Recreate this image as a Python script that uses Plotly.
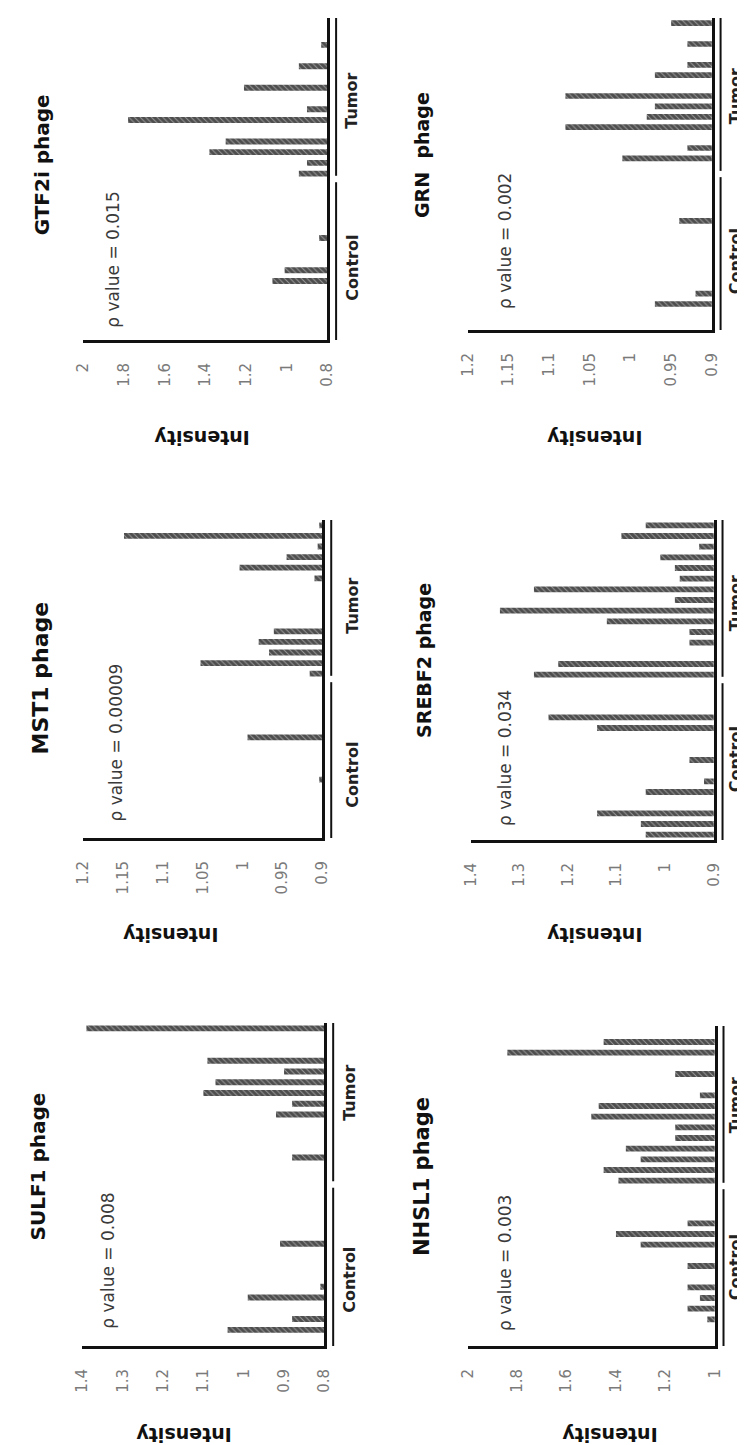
import plotly.graph_objects as go

W, H = 745, 1445

# sample index along the category axis: 0-14 Control, 15-29 Tumor
samples = list(range(30))
group_names = ["Control", "Tumor"]
intensity_label = "Intensity"

# ---- data (values below the axis minimum are not visible) ----
sulf1_values = [0.78, 1.04, 0.88, 0.78, 0.99, 0.81, 0.78, 0.78, 0.78, 0.91,
                0.78, 0.78, 0.78, 0.78, 0.78, 0.78, 0.78, 0.88, 0.78, 0.78,
                0.78, 0.92, 0.88, 1.10, 1.07, 0.90, 1.09, 0.78, 0.78, 1.39]
sulf1_ticks = [0.8, 0.9, 1.0, 1.1, 1.2, 1.3, 1.4]
sulf1_tick_text = ["0.8", "0.9", "1", "1.1", "1.2", "1.3", "1.4"]

mst1_values = [0.89, 0.89, 0.89, 0.89, 0.89, 0.904, 0.89, 0.89, 0.89, 0.994,
               0.89, 0.89, 0.89, 0.89, 0.89, 0.916, 1.053, 0.967, 0.98, 0.961,
               0.89, 0.89, 0.89, 0.89, 0.91, 1.004, 0.945, 0.906, 1.149, 0.904]
mst1_ticks = [0.9, 0.95, 1.0, 1.05, 1.1, 1.15, 1.2]
mst1_tick_text = ["0.9", "0.95", "1", "1.05", "1.1", "1.15", "1.2"]

gtf2i_values = [0.78, 0.78, 0.78, 0.78, 0.78, 1.07, 1.01, 0.78, 0.78, 0.84,
                0.78, 0.78, 0.78, 0.78, 0.78, 0.94, 0.90, 1.38, 1.30, 0.78,
                1.78, 0.90, 0.78, 1.21, 0.78, 0.94, 0.78, 0.83, 0.78, 0.78]
gtf2i_ticks = [0.8, 1.0, 1.2, 1.4, 1.6, 1.8, 2.0]
gtf2i_tick_text = ["0.8", "1", "1.2", "1.4", "1.6", "1.8", "2"]

nhsl1_values = [0.98, 0.98, 1.03, 1.11, 1.06, 1.11, 0.98, 1.11, 0.98, 1.30,
                1.40, 1.11, 0.98, 0.98, 0.98, 1.39, 1.45, 1.30, 1.36, 1.16,
                1.16, 1.50, 1.47, 1.06, 0.98, 1.16, 0.98, 1.84, 1.45, 0.98]
nhsl1_ticks = [1.0, 1.2, 1.4, 1.6, 1.8, 2.0]
nhsl1_tick_text = ["1", "1.2", "1.4", "1.6", "1.8", "2"]

srebf2_values = [1.04, 1.05, 1.14, 0.89, 1.04, 0.92, 0.89, 0.95, 0.89, 0.89,
                 1.14, 1.24, 0.89, 0.89, 0.89, 1.27, 1.22, 0.89, 0.95, 0.95,
                 1.12, 1.34, 0.98, 1.27, 0.97, 0.98, 1.01, 0.93, 1.09, 1.04]
srebf2_ticks = [0.9, 1.0, 1.1, 1.2, 1.3, 1.4]
srebf2_tick_text = ["0.9", "1", "1.1", "1.2", "1.3", "1.4"]

grn_values = [0.89, 0.89, 0.97, 0.92, 0.89, 0.89, 0.89, 0.89, 0.89, 0.89,
              0.94, 0.89, 0.89, 0.89, 0.89, 0.89, 1.01, 0.93, 0.89, 1.08,
              0.98, 0.97, 1.08, 0.89, 0.97, 0.93, 0.89, 0.93, 0.89, 0.95]
grn_ticks = [0.9, 0.95, 1.0, 1.05, 1.1, 1.15, 1.2]
grn_tick_text = ["0.9", "0.95", "1", "1.05", "1.1", "1.15", "1.2"]

# ---- panel layout (pixel geometry of the rotated page) ----
panels = [
    dict(title="SULF1 phage", p="ρ value = 0.008", vals=sulf1_values, ticks=sulf1_ticks,
         ttext=sulf1_tick_text, rng=(0.8, 1.4), box=(67, 315, 1015, 1338), tpos=(22, 1158), tsize=20,
         ppos=(93, 1253), cpos=(340, 1272), upos=(340, 1085), ipos=(171, 1427)),
    dict(title="MST1 phage", p="ρ value = 0.00009", vals=mst1_values, ticks=mst1_ticks,
         ttext=mst1_tick_text, rng=(0.9, 1.2), box=(68, 313, 512, 830), tpos=(24, 670), tsize=22,
         ppos=(101, 735), cpos=(343, 767), upos=(343, 598), ipos=(157, 927)),
    dict(title="GTF2i phage", p="ρ value = 0.015", vals=gtf2i_values, ticks=gtf2i_ticks,
         ttext=gtf2i_tick_text, rng=(0.8, 2.0), box=(68, 318, 10, 332), tpos=(26, 157), tsize=20,
         ppos=(98, 252), cpos=(343, 260), upos=(343, 93), ipos=(189, 430)),
    dict(title="NHSL1 phage", p="ρ value = 0.003", vals=nhsl1_values, ticks=nhsl1_ticks,
         ttext=nhsl1_tick_text, rng=(1.0, 2.0), box=(462, 715, 1018, 1338), tpos=(415, 1168), tsize=21,
         ppos=(500, 1255), cpos=(736, 1259), upos=(736, 1097), ipos=(607, 1427)),
    dict(title="SREBF2 phage", p="ρ value = 0.034", vals=srebf2_values, ticks=srebf2_ticks,
         ttext=srebf2_tick_text, rng=(0.9, 1.4), box=(465, 714, 512, 832), tpos=(417, 652), tsize=19,
         ppos=(500, 750), cpos=(736, 751), upos=(736, 595), ipos=(592, 927)),
    dict(title="GRN  phage", p="ρ value = 0.002", vals=grn_values, ticks=grn_ticks,
         ttext=grn_tick_text, rng=(0.9, 1.2), box=(462, 712, 10, 322), tpos=(415, 147), tsize=19,
         ppos=(500, 233), cpos=(736, 253), upos=(736, 88), ipos=(592, 430)),
]

FONT = "DejaVu Sans"
DARK = "#111111"

fig = go.Figure()
layout = dict(width=W, height=H, margin=dict(l=0, r=0, t=0, b=0),
              paper_bgcolor="white", plot_bgcolor="white", showlegend=False,
              annotations=[], shapes=[])

def px(x):
    return x / W

def py(y):
    return 1 - y / H

for i, pnl in enumerate(panels, start=1):
    xa = "x" if i == 1 else f"x{i}"
    ya = "y" if i == 1 else f"y{i}"
    xl, xr, yt, yb = pnl["box"]
    vmin, vmax = pnl["rng"]
    fig.add_trace(go.Bar(
        x=pnl["vals"], y=samples, orientation="h", width=0.55,
        xaxis=xa, yaxis=ya,
        marker=dict(color="#ffffff", line=dict(width=0),
                    pattern=dict(shape="\\", fgcolor="#000000", bgcolor="#9a9a9a",
                                 size=4, solidity=0.75)),
        hoverinfo="skip"))
    xkey = "xaxis" if i == 1 else f"xaxis{i}"
    ykey = "yaxis" if i == 1 else f"yaxis{i}"
    layout[xkey] = dict(domain=[px(xl), px(xr)], anchor=ya, range=[vmax, vmin],
                        tickvals=pnl["ticks"], ticktext=pnl["ttext"], tickangle=-90,
                        ticks="", ticklabelstandoff=14, showgrid=False, zeroline=False,
                        showline=True, linecolor=DARK, linewidth=3, fixedrange=True,
                        tickfont=dict(family=FONT, size=15, color="#7a7a7a"))
    layout[ykey] = dict(domain=[py(yb), py(yt)], anchor=xa, range=[-0.5, 29.5],
                        side="right", showticklabels=False, ticks="", showgrid=False,
                        zeroline=False, showline=True, linecolor=DARK, linewidth=3,
                        fixedrange=True)
    # group brackets beside the category axis
    bx = px(xr + 9)
    for y0, y1 in ((-0.5, 14.2), (14.8, 29.5)):
        layout["shapes"].append(dict(type="line", xref="paper", yref=ya, x0=bx, x1=bx,
                                     y0=y0, y1=y1, line=dict(color=DARK, width=2)))
    ann = layout["annotations"]
    ann.append(dict(text=f"<b>{pnl['title']}</b>", x=px(pnl["tpos"][0]), y=py(pnl["tpos"][1]),
                    xref="paper", yref="paper", showarrow=False, textangle=-90,
                    xanchor="center", yanchor="middle",
                    font=dict(family=FONT, size=pnl["tsize"], color=DARK)))
    ann.append(dict(text=pnl["p"], x=px(pnl["ppos"][0]), y=py(pnl["ppos"][1]),
                    xref="paper", yref="paper", showarrow=False, textangle=-90,
                    xanchor="center", yanchor="middle",
                    font=dict(family=FONT, size=17, color="#3a3a3a")))
    for name, pos in zip(group_names, (pnl["cpos"], pnl["upos"])):
        ann.append(dict(text=f"<b>{name}</b>", x=px(pos[0]), y=py(pos[1]),
                        xref="paper", yref="paper", showarrow=False, textangle=-90,
                        xanchor="center", yanchor="middle",
                        font=dict(family=FONT, size=16, color="#222222")))
    ann.append(dict(text=f"<b>{intensity_label}</b>", x=px(pnl["ipos"][0]), y=py(pnl["ipos"][1]),
                    xref="paper", yref="paper", showarrow=False, textangle=180,
                    xanchor="center", yanchor="middle",
                    font=dict(family=FONT, size=19, color=DARK)))

fig.update_layout(**layout)
fig.write_html("out.html")
